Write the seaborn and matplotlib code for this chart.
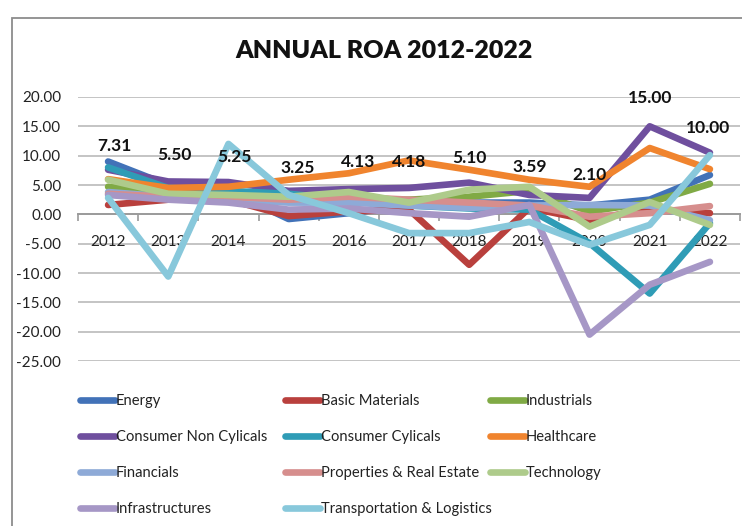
import matplotlib
matplotlib.use("Agg")
import matplotlib.pyplot as plt
from matplotlib.lines import Line2D
from matplotlib.patches import Rectangle
from matplotlib.ticker import FixedLocator, FuncFormatter
import seaborn as sns
import pandas as pd
import numpy as np

years = [2012, 2013, 2014, 2015, 2016, 2017, 2018, 2019, 2020, 2021, 2022]

energy = [9.0, 5.0, 4.0, -0.8, 0.2, 1.5, 2.0, 2.0, 1.5, 2.5, 6.7]
basic_materials = [1.6, 2.5, 2.5, -0.3, 0.5, 0.8, -8.6, 1.1, -1.0, 1.0, 0.2]
industrials = [4.7, 3.5, 3.5, 2.5, 2.5, 2.5, 3.0, 4.0, 0.5, 2.0, 5.2]
consumer_non_cyclicals = [7.6, 5.6, 5.5, 4.0, 4.3, 4.5, 5.4, 3.3, 2.8, 15.0, 10.5]
consumer_cyclicals = [8.0, 4.5, 4.0, 3.5, 2.5, 1.5, 1.0, 0.8, -4.9, -13.5, -1.5]
healthcare = [6.0, 4.5, 4.7, 5.9, 7.0, 9.2, 7.6, 5.9, 4.7, 11.3, 7.7]
financials = [3.8, 3.0, 2.5, 2.0, 2.0, 1.5, 1.1, 1.5, 1.6, 1.5, -1.0]
properties = [3.5, 3.0, 3.0, 2.5, 3.0, 2.5, 2.0, 1.5, -0.4, 0.2, 1.4]
technology = [5.9, 3.5, 3.3, 3.0, 3.8, 2.0, 4.2, 4.7, -2.1, 2.1, -1.8]
infrastructures = [3.3, 2.5, 2.0, 0.8, 1.0, 0.2, -0.4, 1.6, -20.5, -12.0, -8.1]
transportation = [2.8, -10.6, 12.0, 3.3, 0.2, -3.2, -3.2, -1.3, -5.2, -1.8, 10.1]

series_names = ["Energy", "Basic Materials", "Industrials",
                "Consumer Non Cylicals", "Consumer Cylicals", "Healthcare",
                "Financials", "Properties & Real Estate", "Technology",
                "Infrastructures", "Transportation & Logistics"]
series_values = [energy, basic_materials, industrials, consumer_non_cyclicals,
                 consumer_cyclicals, healthcare, financials, properties,
                 technology, infrastructures, transportation]

label_texts = ["7.31", "5.50", "5.25", "3.25", "4.13", "4.18", "5.10", "3.59",
               "2.10", "15.00", "10.00"]

y_ticks = [20, 15, 10, 5, 0, -5, -10, -15, -20, -25]

colors = ["#4272b8", "#b9403d", "#80aa45", "#6f4f9e", "#2f9cb6", "#f0842e",
          "#8eaad7", "#d68e8d", "#aecb8b", "#a697c6", "#88c8db"]

rows = []
for name, vals in zip(series_names, series_values):
    for i, (yr, v) in enumerate(zip(years, vals)):
        rows.append({"idx": i, "Year": yr, "Series": name, "ROA": v})
df = pd.DataFrame(rows)

sns.set_theme(style="white")
plt.rcParams["font.family"] = ["Lato", "DejaVu Sans"]

fig = plt.figure(figsize=(7.42, 5.26), dpi=100)
ax = fig.add_axes([78 / 742, 1 - 361 / 526, 662 / 742, 264 / 526])

# outer chart frame (left and top visible)
fig.patches.append(Rectangle((12 / 742, -0.1), 1.2, 1 - 18 / 526 + 0.1,
                             transform=fig.transFigure, fill=False,
                             edgecolor="#8c8c8c", lw=1.3, zorder=0))

for yv in y_ticks:
    if yv != 0:
        ax.axhline(yv, color="#c4c4c4", lw=1.4, zorder=0)

sns.lineplot(data=df, x="idx", y="ROA", hue="Series", hue_order=series_names,
             palette=colors, ax=ax, legend=False, lw=4.8,
             solid_capstyle="round", solid_joinstyle="round", zorder=3)

ax.set_xlim(-0.5, len(years) - 0.5)
ax.set_ylim(-25, 20)
ax.set_xlabel("")
ax.set_ylabel("")

for s in ["top", "right", "left"]:
    ax.spines[s].set_visible(False)
ax.spines["bottom"].set_position(("data", 0))
ax.spines["bottom"].set_color("#9a9a9a")
ax.spines["bottom"].set_linewidth(1.4)
ax.spines["bottom"].set_zorder(1)

ax.set_xticks(range(len(years)))
ax.set_xticklabels([str(y) for y in years])
ax.xaxis.set_minor_locator(FixedLocator(np.arange(-0.5, len(years), 1.0)))
ax.tick_params(axis="x", which="major", length=0, pad=15, labelsize=11,
               labelcolor="#222222")
ax.tick_params(axis="x", which="minor", length=5, width=1.2, color="#9a9a9a",
               direction="out", bottom=True)

ax.set_yticks(y_ticks)
ax.yaxis.set_major_formatter(FuncFormatter(lambda v, p: f"{v:.2f}"))
ax.tick_params(axis="y", length=0, pad=12, labelsize=11, labelcolor="#222222")

# data labels
label_y = [11.7, 10.1, 9.8, 7.9, 8.9, 8.9, 9.6, 8.1, 6.7, 19.8, 14.7]
label_dx = [0.1, 0.1, 0.1, 0.15, 0.15, 0.0, 0.0, 0.0, 0.0, 0.0, -0.03]
for i, t in enumerate(label_texts):
    ax.text(i + label_dx[i], label_y[i], t, ha="center", va="center",
            fontsize=12.5, fontweight="bold", color="#111111", zorder=5,
            clip_on=False)

fig.text(384 / 742, 1 - 51 / 526, "ANNUAL ROA 2012-2022", ha="center",
         va="center", fontsize=18, fontweight="heavy", color="#111111")

handles = [Line2D([0], [0], color=c, lw=4.8, solid_capstyle="round")
           for c in colors]
col_members = [[0, 3, 6, 9], [1, 4, 7, 10], [2, 5, 8]]
col_x = [80 / 742, 285 / 742, 490 / 742]
for cx, members in zip(col_x, col_members):
    fig.legend([handles[m] for m in members], [series_names[m] for m in members],
               loc="upper left", bbox_to_anchor=(cx, 1 - 394 / 526),
               frameon=False, fontsize=10.6, handlelength=2.4,
               handletextpad=0.05, labelspacing=1.5, borderpad=0,
               borderaxespad=0, labelcolor="#222222")

fig.savefig("out.png", dpi=100, facecolor="white")
